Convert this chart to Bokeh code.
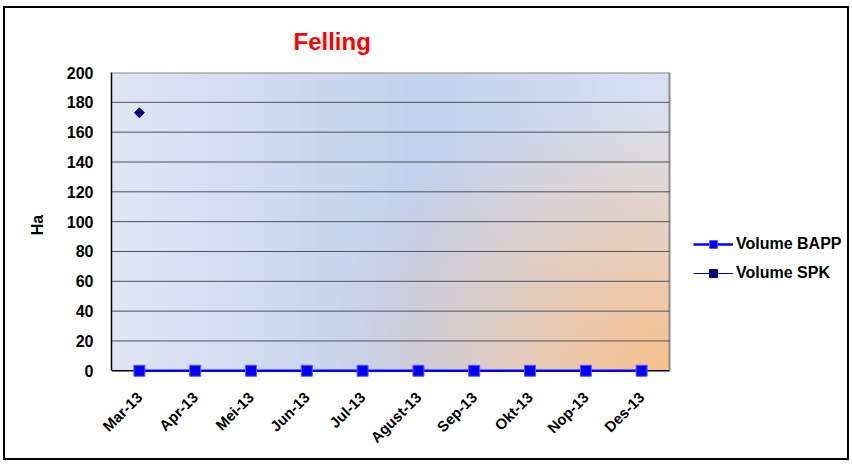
import numpy as np
from math import pi
from bokeh.plotting import figure
from bokeh.models import Range1d, Legend, LegendItem, FixedTicker
from bokeh.embed import file_html
from bokeh.resources import INLINE

months = ["Mar-13", "Apr-13", "Mei-13", "Jun-13", "Jul-13", "Agust-13",
          "Sep-13", "Okt-13", "Nop-13", "Des-13"]
volume_bapp = [0, 0, 0, 0, 0, 0, 0, 0, 0, 0]
volume_spk = [173, np.nan, np.nan, np.nan, np.nan, np.nan, np.nan, np.nan, np.nan, np.nan]
y_ticks = [0, 20, 40, 60, 80, 100, 120, 140, 160, 180, 200]
Y_MAX = 200

FONT = "Liberation Sans"

n = len(months)
x_pos = [i + 0.5 for i in range(n)]          # category centres
PLOT_W, FRAME_W = 555.0, 736.0                # plot area vs frame width (px)
x_end = n * FRAME_W / PLOT_W                  # frame extends right to host the legend

p = figure(width=846, height=454, output_backend="svg", toolbar_location=None,
           x_range=Range1d(0, x_end), y_range=Range1d(-4.5, Y_MAX),
           min_border_left=106, min_border_top=64, min_border_right=0,
           min_border_bottom=85)
p.styles = {"border": "2px solid black", "margin-left": "3px", "margin-top": "6px"}
p.background_fill_color = "white"
p.border_fill_color = "white"
p.outline_line_color = None
p.xgrid.visible = False
p.ygrid.visible = False

# gradient plot-area background
nx, ny = 280, 150
u = np.linspace(0, 1, nx)[None, :]
v = np.linspace(0, 1, ny)[:, None]
c_left = np.array([224, 230, 244], float)
c_mid = np.array([194, 209, 237], float)
c_right = np.array([216, 226, 244], float)
t1 = np.clip(u / 0.55, 0, 1)
t2 = np.clip((u - 0.55) / 0.45, 0, 1)
base = np.where((u <= 0.55)[..., None],
                c_left + (c_mid - c_left) * t1[..., None],
                c_mid + (c_right - c_mid) * t2[..., None])
base = np.broadcast_to(base, (ny, nx, 3)).copy()
orange = np.array([248, 192, 140], float)
d = np.sqrt(((u - 1.0) / 0.62) ** 2 + (v / 0.95) ** 2)
w = np.clip(1 - d, 0, 1) ** 1.1
rgb = base * (1 - w[..., None]) + orange * w[..., None]
img = np.empty((ny, nx), dtype=np.uint32)
view = img.view(dtype=np.uint8).reshape((ny, nx, 4))
view[..., :3] = rgb.astype(np.uint8)
view[..., 3] = 255
bg = p.image_rgba(image=[img], x=0, y=0, dw=n, dh=Y_MAX)
bg.level = "image"

# plot-area border (top and right), grid lines and category axis line
p.segment(x0=[0, n], y0=[Y_MAX, 0], x1=[n, n], y1=[Y_MAX, Y_MAX],
          line_color="#8c8c8c", line_width=2)
grid_vals = [t for t in y_ticks if 0 < t < Y_MAX]
p.segment(x0=[0] * len(grid_vals), x1=[n] * len(grid_vals), y0=grid_vals,
          y1=grid_vals, line_color="#4a525c", line_width=1)
p.segment(x0=[0], x1=[n], y0=[0], y1=[0], line_color="black", line_width=1.5)

# series
lb = p.line(x_pos, volume_bapp, line_color="#0000ff", line_width=2.5)
sb = p.scatter(x_pos, volume_bapp, marker="square", size=11,
               fill_color="#0000ff", line_color="#5a5aff", line_width=1)
ls = p.line(x_pos, volume_spk, line_color="#000080", line_width=1.2)
ss = p.scatter(x_pos, volume_spk, marker="square", size=7, angle=pi / 4,
               fill_color="#000080", line_color="#000080")

# axes
p.yaxis.ticker = FixedTicker(ticks=y_ticks)
p.yaxis.bounds = (0, Y_MAX)
p.xaxis.ticker = FixedTicker(ticks=x_pos)
p.xaxis.major_label_overrides = {x: m for x, m in zip(x_pos, months)}
p.xaxis.bounds = (0, n)

for ax in (p.xaxis, p.yaxis):
    ax.axis_line_color = "black"
    ax.axis_line_width = 1.5
    ax.major_tick_line_color = None
    ax.minor_tick_line_color = None
    ax.major_tick_out = 0
    ax.major_tick_in = 0
    ax.minor_tick_out = 0
    ax.major_label_text_font = FONT
    ax.major_label_text_font_style = "bold"
    ax.major_label_text_color = "black"

p.yaxis.major_label_text_font_size = "16px"
p.xaxis.major_label_text_font_size = "15px"
p.xaxis.axis_line_color = None
p.yaxis.major_label_standoff = 18
p.yaxis.axis_label = "Ha"
p.yaxis.axis_label_text_font = FONT
p.yaxis.axis_label_text_font_style = "bold"
p.yaxis.axis_label_text_font_size = "16px"
p.yaxis.axis_label_text_color = "black"
p.yaxis.axis_label_standoff = 18
p.xaxis.major_label_orientation = pi / 4
p.xaxis.major_label_standoff = 17

p.title.text = "Felling"
p.title.text_color = "#ff0000"
p.title.text_font = FONT
p.title.text_font_style = "bold"
p.title.text_font_size = "24px"
p.title.align = "left"
p.title.offset = 182
p.title.standoff = 35

legend = Legend(items=[LegendItem(label="Volume BAPP", renderers=[lb, sb]),
                       LegendItem(label="Volume SPK", renderers=[ls, ss])],
                location=(582, 94))
legend.border_line_color = None
legend.background_fill_alpha = 0
legend.label_text_font = FONT
legend.label_text_font_style = "bold"
legend.label_text_font_size = "16px"
legend.label_text_color = "black"
legend.glyph_width = 40
legend.glyph_height = 20
legend.spacing = 9
legend.padding = 0
legend.margin = 0
legend.label_standoff = 3
p.add_layout(legend, "center")

open("out.html", "w").write(file_html(p, INLINE))
